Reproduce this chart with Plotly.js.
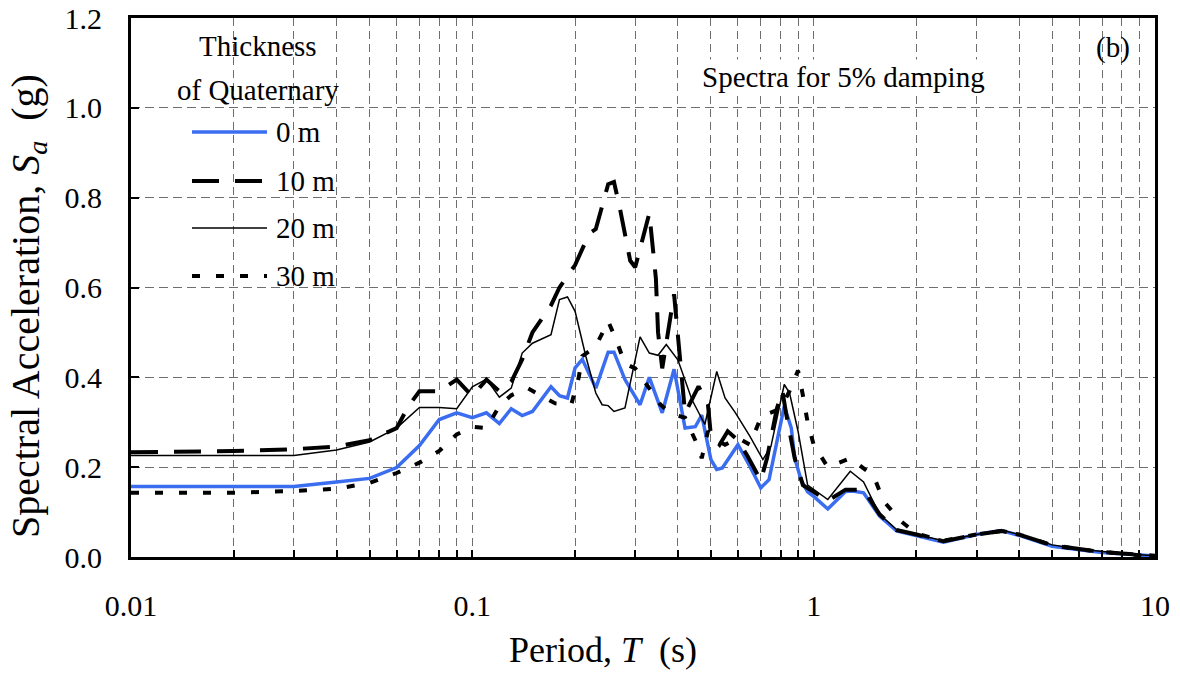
<!DOCTYPE html>
<html>
<head>
<meta charset="utf-8">
<script src="https://cdn.plot.ly/plotly-3.0.1.min.js"></script>
<style>html,body{margin:0;padding:0;background:#fff;}#chart{width:1180px;height:685px;}</style>
</head>
<body>
<div id="chart"></div>
<script>
// ---- Data ----
const seriesNames = ["0 m", "10 m", "20 m", "30 m"];
const legendTitle = ["Thickness", "of Quaternary"];
const xTitle = 'Period, <i>T</i>  (s)';
const yTitle = 'Spectral Acceleration, <i>S<sub>a</sub></i>  (g)';

const T0 = [0.01,0.02,0.03,0.04,0.05,0.06,0.07,0.08,0.09,0.1,0.11,0.12,0.13,0.14,0.15,0.17,0.18,0.19,0.2,0.21,0.23,0.25,0.26,0.28,0.31,0.33,0.36,0.39,0.42,0.45,0.47,0.5,0.52,0.54,0.6,0.65,0.7,0.74,0.78,0.82,0.86,0.88,0.92,0.96,1.0,1.1,1.24,1.3,1.4,1.56,1.75,2.0,2.4,3.0,3.55,4.0,5.0,6.0,7.0,8.0,9.0,10.0];
const Sa0 = [0.157,0.157,0.157,0.167,0.175,0.199,0.248,0.306,0.321,0.31,0.321,0.297,0.33,0.315,0.324,0.379,0.359,0.354,0.421,0.44,0.376,0.456,0.456,0.395,0.339,0.40,0.321,0.418,0.287,0.29,0.316,0.217,0.195,0.198,0.25,0.202,0.154,0.172,0.26,0.336,0.287,0.22,0.17,0.145,0.135,0.107,0.146,0.147,0.143,0.091,0.058,0.047,0.033,0.05,0.059,0.048,0.024,0.016,0.01,0.007,0.004,0.002];

const T10 = [0.01,0.02,0.03,0.04,0.05,0.06,0.065,0.07,0.08,0.09,0.1,0.11,0.12,0.13,0.14,0.15,0.17,0.18,0.2,0.22,0.23,0.25,0.26,0.27,0.29,0.3,0.33,0.345,0.35,0.36,0.39,0.41,0.42,0.46,0.49,0.5,0.53,0.56,0.6,0.64,0.7,0.73,0.78,0.81,0.83,0.88,0.93,1.0,1.1,1.24,1.4,1.56,1.75,2.0,2.4,3.0,3.55,4.0,5.0,6.0,7.0,8.0,9.0,10.0];
const Sa10 = [0.233,0.236,0.24,0.246,0.26,0.287,0.336,0.369,0.369,0.395,0.358,0.395,0.369,0.39,0.44,0.5,0.56,0.6,0.65,0.72,0.73,0.83,0.835,0.78,0.66,0.645,0.765,0.62,0.5,0.42,0.585,0.42,0.32,0.38,0.34,0.27,0.25,0.28,0.26,0.225,0.17,0.22,0.33,0.37,0.32,0.22,0.16,0.145,0.125,0.15,0.15,0.095,0.06,0.05,0.035,0.05,0.058,0.05,0.026,0.018,0.011,0.008,0.005,0.003];

const T20 = [0.01,0.02,0.03,0.04,0.05,0.06,0.07,0.08,0.09,0.1,0.11,0.12,0.13,0.14,0.15,0.17,0.18,0.19,0.2,0.215,0.23,0.24,0.25,0.26,0.28,0.31,0.33,0.35,0.37,0.4,0.44,0.48,0.52,0.55,0.59,0.65,0.71,0.75,0.82,0.85,0.9,0.96,1.1,1.28,1.4,1.56,1.75,2.0,2.4,3.0,3.55,4.0,5.0,6.0,7.0,8.0,9.0,10.0];
const Sa20 = [0.226,0.226,0.226,0.238,0.256,0.287,0.333,0.333,0.33,0.379,0.396,0.356,0.376,0.454,0.476,0.495,0.573,0.579,0.547,0.447,0.365,0.339,0.337,0.324,0.332,0.49,0.454,0.449,0.473,0.439,0.35,0.295,0.413,0.354,0.321,0.269,0.217,0.247,0.384,0.365,0.28,0.16,0.128,0.191,0.167,0.095,0.061,0.05,0.036,0.05,0.06,0.05,0.027,0.018,0.012,0.008,0.005,0.003];

const T30 = [0.01,0.02,0.03,0.04,0.05,0.06,0.07,0.08,0.09,0.1,0.11,0.12,0.13,0.145,0.16,0.175,0.195,0.205,0.21,0.23,0.25,0.265,0.28,0.3,0.32,0.355,0.38,0.42,0.45,0.47,0.49,0.52,0.55,0.6,0.65,0.7,0.74,0.8,0.85,0.9,0.93,0.96,1.0,1.1,1.28,1.5,1.6,1.8,2.0,2.4,3.0,3.55,4.0,5.0,6.0,7.0,8.0,9.0,10.0];
const Sa30 = [0.143,0.143,0.147,0.152,0.165,0.187,0.21,0.236,0.273,0.29,0.287,0.336,0.36,0.376,0.358,0.342,0.34,0.40,0.447,0.469,0.525,0.48,0.43,0.42,0.39,0.34,0.32,0.31,0.26,0.22,0.28,0.26,0.25,0.265,0.25,0.31,0.32,0.33,0.37,0.415,0.36,0.3,0.25,0.2,0.22,0.18,0.125,0.08,0.052,0.036,0.05,0.058,0.05,0.026,0.017,0.011,0.007,0.004,0.002];

const xTickVals = [0.01, 0.1, 1, 10];
const xTickText = ["0.01", "0.1", "1", "10"];
const xMinorVals = [0.02,0.03,0.04,0.05,0.06,0.07,0.08,0.09,0.2,0.3,0.4,0.5,0.6,0.7,0.8,0.9,2,3,4,5,6,7,8,9];
const yTickVals = [0, 0.2, 0.4, 0.6, 0.8, 1.0, 1.2];

// ---- Layout helpers ----
const W = 1180, H = 685;
const M = {l: 131, r: 25, t: 18, b: 128};
const PW = W - M.l - M.r, PH = H - M.t - M.b;
const px = x => (x - M.l) / PW;
const py = y => (H - M.b - y) / PH;

const FONT = 'Liberation Serif, Times New Roman, serif';
const GRID = '#6e6e6e';
const BLUE = '#3a6df0';

const styles = [
  {color: BLUE, width: 3.5, dash: 'solid'},
  {color: '#000', width: 4, dash: '27px,16px'},
  {color: '#000', width: 1.5, dash: 'solid'},
  {color: '#000', width: 4, dash: '8px,16px'}
];
const xs = [T0, T10, T20, T30];
const ys = [Sa0, Sa10, Sa20, Sa30];

const traces = seriesNames.map((n, i) => ({
  type: 'scatter', mode: 'lines', name: n,
  x: xs[i], y: ys[i],
  line: {color: styles[i].color, width: styles[i].width, dash: styles[i].dash},
  showlegend: false, hoverinfo: 'skip'
}));

// custom legend + texts
const legendRows = [132, 181, 228, 276];
const shapes = [
  {type: 'rect', xref: 'paper', yref: 'paper', x0: px(168), x1: px(352), y0: py(298), y1: py(22),
   fillcolor: '#fff', line: {width: 0}, layer: 'between'}
];
const annotations = [
  {xref: 'paper', yref: 'paper', x: px(258), y: py(46), text: legendTitle[0], showarrow: false,
   xanchor: 'center', yanchor: 'middle', font: {family: FONT, size: 29, color: '#000'}},
  {xref: 'paper', yref: 'paper', x: px(258), y: py(90), text: legendTitle[1], showarrow: false,
   xanchor: 'center', yanchor: 'middle', font: {family: FONT, size: 29, color: '#000'}},
  {xref: 'paper', yref: 'paper', x: px(843), y: py(77), text: 'Spectra for 5% damping', showarrow: false,
   xanchor: 'center', yanchor: 'middle', bgcolor: '#fff', font: {family: FONT, size: 29, color: '#000'}},
  {xref: 'paper', yref: 'paper', x: px(1113), y: py(48), text: '(b)', showarrow: false,
   xanchor: 'center', yanchor: 'middle', font: {family: FONT, size: 29, color: '#000'}},
  {xref: 'paper', yref: 'paper', x: px(603), y: py(650), text: xTitle, showarrow: false,
   xanchor: 'center', yanchor: 'middle', font: {family: FONT, size: 36, color: '#000'}},
  {xref: 'paper', yref: 'paper', x: px(28), y: py(306), text: yTitle, showarrow: false, textangle: -90,
   xanchor: 'center', yanchor: 'middle', font: {family: FONT, size: 40, color: '#000'}}
];
seriesNames.forEach((n, i) => {
  shapes.push({type: 'line', xref: 'paper', yref: 'paper', x0: px(192), x1: px(267), y0: py(legendRows[i]), y1: py(legendRows[i]),
    line: {color: styles[i].color, width: styles[i].width, dash: styles[i].dash}, layer: 'above'});
  annotations.push({xref: 'paper', yref: 'paper', x: px(274), y: py(legendRows[i]), text: n, showarrow: false,
    xanchor: 'left', yanchor: 'middle', font: {family: FONT, size: 29, color: '#000'}});
});

const layout = {
  width: W, height: H,
  margin: M,
  paper_bgcolor: '#fff', plot_bgcolor: '#fff',
  font: {family: FONT, size: 29, color: '#000'},
  showlegend: false,
  xaxis: {
    type: 'log', range: [-2, 1],
    tickmode: 'array', tickvals: xTickVals, ticktext: xTickText,
    ticks: 'inside', ticklen: 7, tickwidth: 2, tickcolor: '#000',
    ticklabelstandoff: 20,
    tickfont: {family: FONT, size: 30, color: '#000'},
    showgrid: true, gridcolor: GRID, gridwidth: 1, griddash: '8px,5px',
    minor: {tickmode: 'array', tickvals: xMinorVals, ticks: 'inside', ticklen: 7, tickwidth: 2, tickcolor: '#000',
            showgrid: true, gridcolor: GRID, gridwidth: 1, griddash: '8px,5px'},
    showline: true, linecolor: '#000', linewidth: 3, mirror: true,
    zeroline: false
  },
  yaxis: {
    range: [0, 1.2],
    tickmode: 'array', tickvals: yTickVals, tickformat: '.1f',
    ticks: 'inside', ticklen: 8, tickwidth: 2, tickcolor: '#000',
    ticklabelstandoff: 20,
    tickfont: {family: FONT, size: 30, color: '#000'},
    showgrid: true, gridcolor: GRID, gridwidth: 1, griddash: '9px,5px',
    showline: true, linecolor: '#000', linewidth: 3, mirror: true,
    zeroline: false
  },
  shapes: shapes,
  annotations: annotations
};

Plotly.newPlot('chart', traces, layout, {displayModeBar: false, staticPlot: true});
</script>
</body>
</html>
